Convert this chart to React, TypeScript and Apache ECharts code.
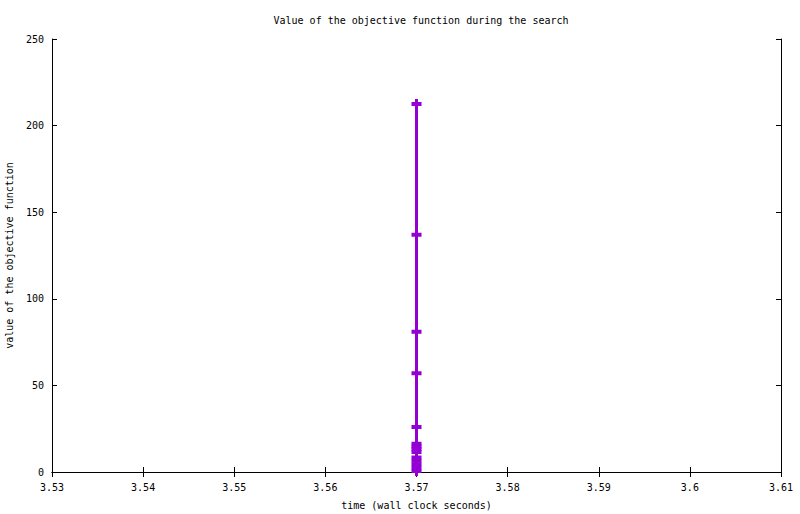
import { useEffect, useRef } from 'react';
import * as echarts from 'echarts';

const times = [3.57, 3.57, 3.57, 3.57, 3.57, 3.57, 3.57, 3.57, 3.57, 3.57, 3.57, 3.57, 3.57, 3.57];
const objective = [212.5, 137, 81, 57, 26, 16.3, 14.7, 13.3, 11.5, 8.3, 6.5, 4.5, 2.5, 0.6];
const xTicks = { min: 3.53, max: 3.61, step: 0.01 };
const yTicks = { min: 0, max: 250, step: 50 };

const FONT = '"DejaVu Sans Mono", monospace';
const PLUS = 'path://M0,3h10v4h-10z M3.5,0h3v10h-3z';

export default function App() {
  const chartRef = useRef<HTMLDivElement>(null);

  useEffect(() => {
    if (!chartRef.current) return;
    const chart = echarts.init(chartRef.current, undefined, { renderer: 'svg' });

    const tick = { show: true, inside: true, length: 5, lineStyle: { color: '#000', width: 1 } };
    const line = { show: true, lineStyle: { color: '#000', width: 1 } };
    const fmtX = (v: number) => parseFloat(v.toFixed(2)).toString();

    const option = {
      animation: false,
      backgroundColor: '#fff',
      textStyle: { fontFamily: FONT },
      title: {
        text: 'Value of the objective function during the search',
        left: 416,
        textAlign: 'center',
        top: 10,
        textStyle: { fontFamily: FONT, fontSize: 10, fontWeight: 'normal', color: '#000' },
      },
      grid: {
        left: 52,
        right: 19,
        top: 39,
        bottom: 42,
        containLabel: false,
        outerBoundsMode: 'none',
      },
      xAxis: [
        {
          type: 'value',
          position: 'bottom',
          min: xTicks.min,
          max: xTicks.max,
          interval: xTicks.step,
          axisLine: line,
          axisTick: tick,
          splitLine: { show: false },
          axisLabel: { color: '#000', fontFamily: FONT, fontSize: 10, margin: 10, formatter: fmtX },
          name: 'time (wall clock seconds)',
          nameLocation: 'middle',
          nameGap: 28,
          nameTextStyle: { color: '#000', fontFamily: FONT, fontSize: 10 },
        },
        {
          type: 'value',
          position: 'top',
          min: xTicks.min,
          max: xTicks.max,
          interval: xTicks.step,
          axisLine: line,
          axisTick: tick,
          splitLine: { show: false },
          axisLabel: { show: false },
        },
      ],
      yAxis: [
        {
          type: 'value',
          position: 'left',
          min: yTicks.min,
          max: yTicks.max,
          interval: yTicks.step,
          axisLine: line,
          axisTick: tick,
          splitLine: { show: false },
          axisLabel: { color: '#000', fontFamily: FONT, fontSize: 10, margin: 8 },
          name: 'value of the objective function',
          nameLocation: 'middle',
          nameGap: 38,
          nameTextStyle: { color: '#000', fontFamily: FONT, fontSize: 10 },
        },
        {
          type: 'value',
          position: 'right',
          min: yTicks.min,
          max: yTicks.max,
          interval: yTicks.step,
          axisLine: line,
          axisTick: tick,
          splitLine: { show: false },
          axisLabel: { show: false },
        },
      ],
      series: [
        {
          type: 'line',
          xAxisIndex: 0,
          yAxisIndex: 0,
          data: times.map((t, i) => [t, objective[i]]),
          clip: false,
          symbol: PLUS,
          symbolSize: [10, 10],
          showAllSymbol: true,
          lineStyle: { color: '#9400d3', width: 3 },
          itemStyle: { color: '#9400d3' },
        },
      ],
    };

    chart.setOption(option);
    return () => chart.dispose();
  }, []);

  return (
    <div
      ref={chartRef}
      style={{ position: 'fixed', left: 0, top: 0, width: 800, height: 514 }}
    />
  );
}
